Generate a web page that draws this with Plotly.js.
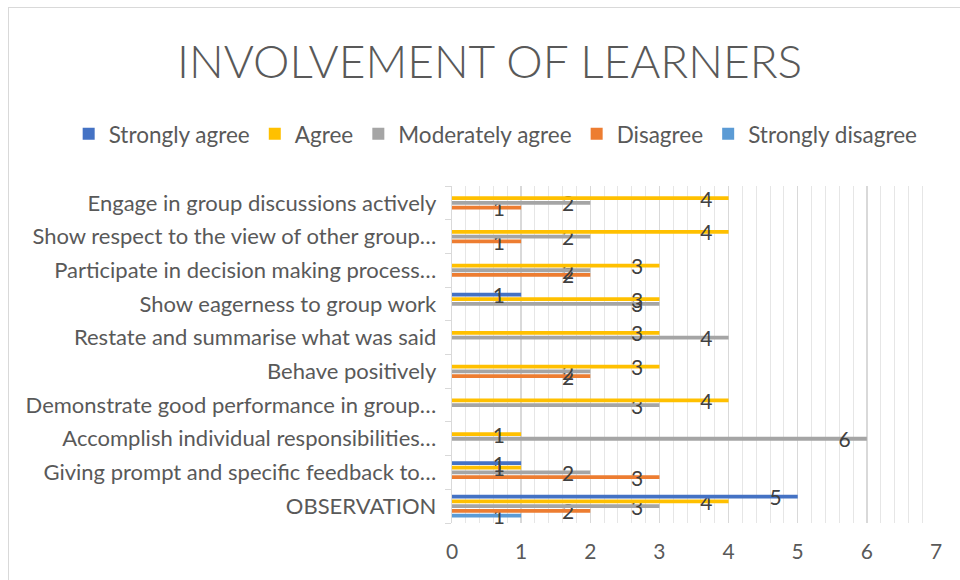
<!DOCTYPE html>
<html>
<head>
<meta charset="utf-8">
<script src="https://cdn.plot.ly/plotly-3.0.1.min.js"></script>
<style>
  html, body { margin: 0; padding: 0; background: #ffffff; }
  #wrap { position: relative; width: 960px; height: 580px; overflow: hidden; }
  #chart { width: 960px; height: 580px; }
  #frame { position: absolute; left: 8px; top: 7px; width: 960px; height: 590px;
           border: 1.5px solid #d9d9d9; pointer-events: none; box-sizing: border-box; }
</style>
</head>
<body>
<div id="wrap">
  <div id="chart"></div>
  <div id="frame"></div>
</div>
<script>
// Categories, bottom to top as drawn
const categories = [
  "OBSERVATION",
  "Giving prompt and specific feedback to…",
  "Accomplish individual responsibilities…",
  "Demonstrate good performance in group…",
  "Behave positively",
  "Restate and summarise what was said",
  "Show eagerness to group work",
  "Participate in decision making process…",
  "Show respect to the view of other group…",
  "Engage in group discussions actively"
];

const seriesNames = ["Strongly agree", "Agree", "Moderately agree", "Disagree", "Strongly disagree"];

const stronglyAgree    = [5, 1, null, null, null, null, 1, null, null, null];
const agree            = [4, 1, 1, 4, 3, 3, 3, 3, 4, 4];
const moderatelyAgree  = [3, 2, 6, 3, 2, 4, 3, 2, 2, 2];
const disagree         = [2, 3, null, null, 2, null, null, 2, 1, 1];
const stronglyDisagree = [1, null, null, null, null, null, null, null, null, null];

const xTicks = [0, 1, 2, 3, 4, 5, 6, 7];

const colors = ["#4472C4", "#FFC000", "#A5A5A5", "#ED7D31", "#5B9BD5"];
const values = [stronglyAgree, agree, moderatelyAgree, disagree, stronglyDisagree];

const FONT = "Lato, 'Open Sans', sans-serif";
const GREY = "#595959";

// Plotly puts the first horizontal trace lowest; the reference has "Strongly agree" on top,
// so traces are added in reverse and the legend is reversed back.
const traces = [];
for (let i = seriesNames.length - 1; i >= 0; i--) {
  traces.push({
    type: "bar",
    orientation: "h",
    name: seriesNames[i],
    y: categories,
    x: values[i],
    marker: { color: colors[i] },
    texttemplate: "%{x}\u00a0\u00a0\u00a0",
    textposition: "inside",
    insidetextanchor: "end",
    constraintext: "none",
    textangle: 0,
    cliponaxis: false,
    insidetextfont: { family: FONT, size: 21, color: "#404040" },
    hoverinfo: "x+name"
  });
}

const layout = {
  width: 960,
  height: 580,
  paper_bgcolor: "#ffffff",
  plot_bgcolor: "#ffffff",
  margin: { l: 452, r: 24, t: 186, b: 57 },
  barmode: "group",
  bargap: 0.3,
  bargroupgap: 0.2,
  showlegend: true,
  title: {
    text: "INVOLVEMENT OF LEARNERS",
    font: { family: FONT, size: 46, color: GREY, weight: 300 },
    x: 0.51, xref: "container", xanchor: "center",
    y: 0.893, yref: "container", yanchor: "middle"
  },
  legend: {
    orientation: "h",
    traceorder: "reversed",
    xref: "paper", yref: "paper",
    x: -0.792, xanchor: "left",
    y: 1.154, yanchor: "middle",
    font: { family: FONT, size: 22.5, color: GREY },
    itemwidth: 30,
    tracegroupgap: 0
  },
  xaxis: {
    range: [0, 7],
    tickvals: xTicks,
    tickfont: { family: FONT, size: 21, color: GREY },
    showgrid: true,
    gridcolor: "#d9d9d9",
    gridwidth: 1.3,
    zeroline: false,
    showline: false,
    ticks: "",
    ticklabelstandoff: 14,
    minor: { dtick: 0.2, showgrid: true, gridcolor: "#e6e6e6", gridwidth: 1 },
    fixedrange: true
  },
  yaxis: {
    type: "category",
    categoryorder: "array",
    categoryarray: categories,
    tickfont: { family: FONT, size: 22, color: GREY },
    showline: true,
    linecolor: "#d9d9d9",
    linewidth: 1.3,
    ticks: "outside",
    tickson: "boundaries",
    ticklen: 6,
    tickcolor: "#d9d9d9",
    showgrid: false,
    ticklabelstandoff: 10,
    fixedrange: true
  }
};

Plotly.newPlot("chart", traces, layout, { displayModeBar: false, staticPlot: true });
</script>
</body>
</html>
